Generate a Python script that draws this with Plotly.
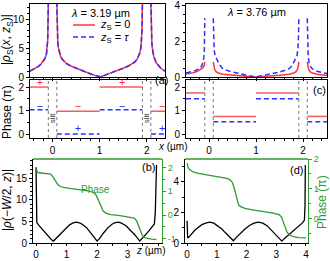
import plotly.graph_objects as go

# ---------------- data ----------------
# panel (a) top : |rho_S(x, z_S)| at lambda = 3.19 um (both z_S nearly identical)
a_left_x = [-0.48, -0.4, -0.3, -0.25, -0.2, -0.16, -0.13, -0.115, -0.105, -0.1, -0.095, -0.09]
a_left_y = [1.0, 1.35, 1.85, 2.2, 2.7, 3.2, 4.0, 5.0, 6.2, 7.8, 10.0, 13.0]
a_mid_x = [0.09, 0.095, 0.10, 0.11, 0.12, 0.14, 0.17, 0.2, 0.25, 0.3, 0.4, 0.5, 0.6, 0.7, 0.8, 0.9, 1.0,
           1.1, 1.2, 1.3, 1.4, 1.5, 1.6, 1.7, 1.75, 1.8, 1.83, 1.86, 1.88, 1.89, 1.90, 1.905, 1.91]
a_mid_y = [13.0, 10.0, 8.0, 6.2, 5.2, 4.3, 3.6, 3.1, 2.6, 2.3, 1.85, 1.5, 1.15, 0.85, 0.55, 0.28, 0.05,
           0.28, 0.55, 0.85, 1.15, 1.5, 1.85, 2.3, 2.6, 3.1, 3.6, 4.3, 5.2, 6.2, 8.0, 10.0, 13.0]
a_right_x = [2.09, 2.095, 2.1, 2.11, 2.12, 2.15, 2.2, 2.25, 2.3, 2.39]
a_right_y = [13.0, 10.0, 7.8, 6.0, 5.0, 3.6, 2.5, 1.9, 1.5, 1.0]

# panel (c) top : lambda = 3.76 um
c_red_left_x = [-0.49, -0.4, -0.3, -0.23, -0.17, -0.13, -0.1, -0.09]
c_red_left_y = [0.17, 0.2, 0.26, 0.34, 0.43, 0.52, 0.65, 0.85]
c_red_mid_x = [0.09, 0.1, 0.12, 0.15, 0.2, 0.3, 0.5, 0.7, 0.85, 1.0, 1.15, 1.3, 1.5, 1.7, 1.8, 1.85, 1.88, 1.9, 1.91]
c_red_mid_y = [0.85, 0.6, 0.42, 0.3, 0.22, 0.16, 0.1, 0.05, 0.025, 0.0, 0.025, 0.05, 0.1, 0.16, 0.22, 0.3, 0.42, 0.6, 0.85]
c_red_right_x = [2.09, 2.1, 2.12, 2.15, 2.2, 2.3, 2.4, 2.51]
c_red_right_y = [0.85, 0.6, 0.42, 0.3, 0.22, 0.15, 0.11, 0.08]

c_blue_left_x = [-0.49, -0.4, -0.3, -0.22, -0.16, -0.13, -0.11, -0.1, -0.095, -0.09]
c_blue_left_y = [0.22, 0.27, 0.35, 0.45, 0.6, 0.8, 1.1, 1.5, 2.2, 3.3]
c_blue_mid_x = [0.09, 0.095, 0.1, 0.11, 0.13, 0.17, 0.22, 0.28, 0.35, 0.5, 0.65, 0.8, 0.9, 1.0,
                1.1, 1.2, 1.35, 1.5, 1.65, 1.72, 1.78, 1.83, 1.87, 1.89, 1.9, 1.905, 1.91]
c_blue_mid_y = [3.3, 2.4, 1.9, 1.5, 1.2, 0.95, 0.7, 0.5, 0.4, 0.28, 0.18, 0.1, 0.05, 0.0,
                0.05, 0.1, 0.18, 0.28, 0.4, 0.5, 0.7, 0.95, 1.2, 1.5, 1.9, 2.4, 3.3]
c_blue_right_x = [2.09, 2.095, 2.1, 2.11, 2.13, 2.16, 2.2, 2.3, 2.4, 2.51]
c_blue_right_y = [3.3, 2.2, 1.6, 1.15, 0.8, 0.58, 0.45, 0.32, 0.25, 0.2]

# phase panels: piecewise constant segments
seg_start = [-0.49, 0.09, 1.0, 2.09]
seg_end = [-0.09, 1.0, 1.91, 2.51]
a_phase_red = [2.0, 0.97, 2.0, 0.97]
a_phase_blue = [1.03, 0.0, 1.03, 0.0]
c_phase_red = [1.75, 0.75, 1.75, 0.75]
c_phase_blue = [1.5, 0.52, 1.5, 0.52]
slit_edges = [-0.09, 0.09, 1.91, 2.09]
slit_centers = [0.0, 2.0]

# sign markers in panel (a) phase
sign_x = [-0.27, 0.54, 1.48, 2.33]
sign_red_text = ["+", "−", "+", "−"]
sign_red_y = [2.17, 1.15, 2.17, 1.15]
sign_blue_text = ["−", "+", "−", "+"]
sign_blue_y = [1.15, 0.21, 1.15, 0.21]

# panel (b): |rho(-W/2, z)| and phase, lambda = 3.19 um
b_z = [0.0, 0.005, 0.012, 0.025, 0.1, 0.2, 0.3, 0.4, 0.5, 0.57, 0.65, 0.8, 0.95, 1.1, 1.2, 1.3, 1.4, 1.5,
       1.65, 1.8, 1.92, 2.0, 2.08, 2.2, 2.35, 2.5, 2.6, 2.7, 2.8, 2.95, 3.1, 3.25, 3.4, 3.48, 3.6, 3.7,
       3.8, 3.88, 3.91, 3.93, 3.95]
b_rho = [17.5, 10.0, 5.5, 4.7, 4.0, 3.2, 2.3, 1.4, 0.8, 0.45, 1.0, 2.2, 3.3, 4.2, 4.6, 4.8, 4.7, 4.4,
         3.6, 2.4, 1.2, 0.45, 1.0, 2.2, 3.5, 4.4, 4.7, 4.8, 4.6, 4.0, 3.0, 1.8, 0.45, 1.0, 2.0, 2.8,
         3.6, 4.4, 7.0, 12.0, 18.0]
b_pz = [0.0, 0.02, 0.05, 0.1, 0.2, 0.3, 0.4, 0.48, 0.55, 0.6, 0.65, 0.72, 0.8, 0.9, 1.1, 1.3, 1.5, 1.7,
        1.85, 1.95, 2.02, 2.08, 2.14, 2.2, 2.3, 2.45, 2.7, 2.9, 3.1, 3.22, 3.3, 3.36, 3.42, 3.48, 3.55,
        3.65, 3.8, 3.95]
b_phase = [1.95, 1.85, 1.8, 1.78, 1.77, 1.76, 1.75, 1.72, 1.62, 1.5, 1.38, 1.27, 1.2, 1.16, 1.12, 1.09,
           1.06, 1.02, 0.97, 0.88, 0.7, 0.5, 0.3, 0.17, 0.07, 0.02, -0.02, -0.05, -0.08, -0.13, -0.25,
           -0.45, -0.68, -0.85, -0.94, -0.99, -1.02, -1.04]

# panel (d): lambda = 3.76 um
d_z = [0.0, 0.01, 0.02, 0.08, 0.16, 0.25, 0.38, 0.5, 0.65, 0.77, 0.9, 1.05, 1.17, 1.3, 1.45, 1.56, 1.65,
       1.8, 1.95, 2.1, 2.25, 2.4, 2.55, 2.7, 2.85, 3.0, 3.1, 3.19, 3.28, 3.4, 3.58, 3.75, 3.9, 3.95,
       3.97, 3.98]
d_rho = [1.46, 0.6, 0.33, 0.42, 0.6, 0.82, 1.03, 1.2, 1.32, 1.36, 1.3, 1.12, 0.92, 0.65, 0.35, 0.15, 0.35,
         0.65, 0.92, 1.15, 1.3, 1.36, 1.3, 1.12, 0.82, 0.5, 0.3, 0.12, 0.3, 0.5, 0.8, 1.12, 1.35, 1.5,
         2.5, 5.1]
d_pz = [0.0, 0.03, 0.1, 0.2, 0.38, 0.6, 0.94, 1.2, 1.34, 1.45, 1.52, 1.58, 1.63, 1.68, 1.73, 1.8, 1.95,
        2.2, 2.63, 2.9, 3.1, 3.18, 3.24, 3.3, 3.36, 3.45, 3.58, 3.75, 3.92, 4.0]
d_phase = [1.86, 1.72, 1.63, 1.57, 1.52, 1.48, 1.44, 1.39, 1.35, 1.3, 1.22, 1.05, 0.85, 0.62, 0.47, 0.4,
           0.34, 0.29, 0.23, 0.18, 0.13, 0.05, -0.12, -0.3, -0.45, -0.55, -0.61, -0.64, -0.65, -0.65]

x_ticks = [0, 1, 2]
z_ticks = [0, 1, 2, 3, 4]
b_z_text = ["0", "1", "2", "3", ""]

# ---------------- style ----------------
RED = "#ff3333"
RED_PH = "#f25c5c"
BLUE = "#2f2fff"
GREEN = "#2f9a2f"
FONT = "Liberation Sans"
W, H = 330, 261


def px(v):
    return v / W


def py(v):
    return 1 - v / H


def join(*parts):
    xs, ys = [], []
    for i in range(0, len(parts), 2):
        if xs:
            xs.append(None)
            ys.append(None)
        xs += list(parts[i])
        ys += list(parts[i + 1])
    return xs, ys


def steps(starts, ends, vals):
    xs, ys = [], []
    for s, e, v in zip(starts, ends, vals):
        xs += [s, e, None]
        ys += [v, v, None]
    return xs, ys


fig = go.Figure()
solid = dict(color=RED, width=1.5)
dashed = dict(color=BLUE, width=1.5, dash="5px,3px")

ax, ay = join(a_left_x, a_left_y, a_mid_x, a_mid_y, a_right_x, a_right_y)
fig.add_trace(go.Scatter(x=ax, y=ay, mode="lines", line=solid, xaxis="x", yaxis="y"))
fig.add_trace(go.Scatter(x=ax, y=ay, mode="lines", line=dashed, xaxis="x", yaxis="y"))
sx, sy = steps(seg_start, seg_end, a_phase_red)
fig.add_trace(go.Scatter(x=sx, y=sy, mode="lines", line=dict(color=RED_PH, width=1.5), xaxis="x2", yaxis="y2"))
sx, sy = steps(seg_start, seg_end, a_phase_blue)
fig.add_trace(go.Scatter(x=sx, y=sy, mode="lines", line=dashed, xaxis="x2", yaxis="y2"))
cx, cy = join(c_red_left_x, c_red_left_y, c_red_mid_x, c_red_mid_y, c_red_right_x, c_red_right_y)
fig.add_trace(go.Scatter(x=cx, y=cy, mode="lines", line=solid, xaxis="x3", yaxis="y3"))
cx, cy = join(c_blue_left_x, c_blue_left_y, c_blue_mid_x, c_blue_mid_y, c_blue_right_x, c_blue_right_y)
fig.add_trace(go.Scatter(x=cx, y=cy, mode="lines", line=dashed, xaxis="x3", yaxis="y3"))
sx, sy = steps(seg_start, seg_end, c_phase_red)
fig.add_trace(go.Scatter(x=sx, y=sy, mode="lines", line=dict(color=RED_PH, width=1.5), xaxis="x4", yaxis="y4"))
sx, sy = steps(seg_start, seg_end, c_phase_blue)
fig.add_trace(go.Scatter(x=sx, y=sy, mode="lines", line=dashed, xaxis="x4", yaxis="y4"))
fig.add_trace(go.Scatter(x=sign_x, y=sign_red_y, mode="text", text=sign_red_text,
                         textfont=dict(color=RED, size=11, family=FONT), xaxis="x2", yaxis="y2"))
fig.add_trace(go.Scatter(x=sign_x, y=sign_blue_y, mode="text", text=sign_blue_text,
                         textfont=dict(color=BLUE, size=11, family=FONT), xaxis="x2", yaxis="y2"))
fig.add_trace(go.Scatter(x=b_z, y=b_rho, mode="lines", line=dict(color="black", width=1.3), xaxis="x5", yaxis="y5"))
fig.add_trace(go.Scatter(x=b_pz, y=b_phase, mode="lines", line=dict(color=GREEN, width=1.3), xaxis="x5", yaxis="y6"))
fig.add_trace(go.Scatter(x=d_z, y=d_rho, mode="lines", line=dict(color="black", width=1.3), xaxis="x6", yaxis="y7"))
fig.add_trace(go.Scatter(x=d_pz, y=d_phase, mode="lines", line=dict(color=GREEN, width=1.3), xaxis="x6", yaxis="y8"))


def axis(**kw):
    base = dict(showline=True, linecolor="black", linewidth=1, ticks="outside", ticklen=3, tickwidth=1,
                tickcolor="black", showgrid=False, zeroline=False, ticklabeloverflow="allow",
                tickfont=dict(size=10, color="black", family=FONT))
    base.update(kw)
    return base


def minor(d, color="black"):
    return dict(dtick=d, tick0=0, ticks="outside", ticklen=2, tickcolor=color, showgrid=False)


dom_left = [px(30), px(165)]
dom_right = [px(186), px(327)]
dom_top = [py(77), py(4)]
dom_ph = [py(138), py(80)]
dom_bot = [py(243), py(159)]
gfont = dict(size=9, color=GREEN, family=FONT)

layout = dict(
    width=W, height=H, margin=dict(l=0, r=0, t=0, b=0, autoexpand=False), showlegend=False,
    paper_bgcolor="white", plot_bgcolor="rgba(0,0,0,0)", font=dict(family=FONT, size=10, color="black"),
    xaxis=axis(domain=dom_left, range=[-0.48, 2.39], anchor="y", tickvals=x_ticks, showticklabels=False,
               minor=minor(0.2), mirror=True),
    yaxis=axis(domain=dom_top, range=[0, 12.6], anchor="x", tickvals=[0, 5, 10], minor=minor(1), mirror=True),
    xaxis2=axis(domain=dom_left, range=[-0.48, 2.39], anchor="y2", tickvals=x_ticks, minor=minor(0.2), mirror=True),
    yaxis2=axis(domain=dom_ph, range=[-0.17, 2.3], anchor="x2", tickvals=[0, 1, 2], minor=minor(0.5), mirror=True),
    xaxis3=axis(domain=dom_right, range=[-0.49, 2.51], anchor="y3", tickvals=x_ticks, showticklabels=False,
                minor=minor(0.2), mirror=True),
    yaxis3=axis(domain=dom_top, range=[0, 4.1], anchor="x3", tickvals=[0, 2, 4], minor=minor(0.5), mirror=True),
    xaxis4=axis(domain=dom_right, range=[-0.49, 2.51], anchor="y4", tickvals=x_ticks, minor=minor(0.2), mirror=True),
    yaxis4=axis(domain=dom_ph, range=[-0.17, 2.3], anchor="x4", tickvals=[0, 1, 2], minor=minor(0.5), mirror=True),
    xaxis5=axis(domain=[px(33), px(162)], range=[-0.1, 4.13], anchor="y5", tickvals=z_ticks, ticktext=b_z_text,
                minor=minor(0.5), ticklen=2),
    yaxis5=axis(domain=dom_bot, range=[0, 19.4], anchor="x5", tickvals=[0, 5, 10, 15], minor=minor(1)),
    yaxis6=axis(overlaying="y5", side="right", anchor="x5", range=[-1.18, 2.36], tickvals=[-1, 0, 1, 2],
                ticktext=["-1", "0", "1", "2"], linecolor=GREEN, tickcolor=GREEN, tickfont=gfont,
                minor=minor(0.5, GREEN)),
    xaxis6=axis(domain=[px(185), px(308)], range=[-0.07, 4.07], anchor="y7", tickvals=z_ticks, minor=minor(0.5),
                ticklen=2),
    yaxis7=axis(domain=dom_bot, range=[0, 5.5], anchor="x6", tickvals=[0, 2, 4], minor=minor(1)),
    yaxis8=axis(overlaying="y7", side="right", anchor="x6", range=[-0.82, 2.0], tickvals=[0, 1, 2],
                linecolor=GREEN, tickcolor=GREEN, tickfont=gfont, minor=minor(0.5, GREEN)),
)

shapes = []
for xr in ("x2", "x4"):
    for e in slit_edges:
        shapes.append(dict(type="line", xref=xr, yref=xr.replace("x", "y") + " domain", x0=e, x1=e, y0=0, y1=1,
                           line=dict(color="#777777", width=1, dash="dot")))
for xr in ("x5", "x6"):
    shapes.append(dict(type="line", xref=xr + " domain", yref="paper", x0=0, x1=1, y0=dom_bot[1], y1=dom_bot[1],
                       line=dict(color=GREEN, width=1.3)))
# legend samples (panel a)
shapes.append(dict(type="line", xref="paper", yref="paper", x0=px(73), x1=px(95), y0=py(25), y1=py(25),
                   line=dict(color=RED, width=1.5)))
shapes.append(dict(type="line", xref="paper", yref="paper", x0=px(73), x1=px(95), y0=py(37), y1=py(37),
                   line=dict(color=BLUE, width=1.5, dash="5px,3px")))
layout["shapes"] = shapes


def note(text, x, y, size=11, color="black", angle=0, xanchor="center", **kw):
    d = dict(text=text, x=px(x), y=py(y), xref="paper", yref="paper", showarrow=False,
             font=dict(size=size, color=color, family=FONT), textangle=angle, xanchor=xanchor, yanchor="middle")
    d.update(kw)
    return d


ann = [
    note("<i>λ</i> = 3.19 µm", 100, 13, 11),
    note("<i>λ</i> = 3.76 µm", 256, 12, 11),
    note("<i>z</i><sub>S</sub> = 0", 98, 25, 11, xanchor="left"),
    note("<i>z</i><sub>S</sub> = <i>τ</i>", 98, 38, 11, xanchor="left"),
    note("(a)", 161, 80, 11),
    note("(c)", 319, 90, 11),
    note("(b)", 148, 167, 11),
    note("(d)", 296, 170, 11),
    note("Phase", 95, 189, 10, GREEN),
    note("<i>x</i> (µm)", 173, 146, 10),
    note("<i>z</i> (µm)", 151, 250, 10),
    note("|<i>ρ̃</i><sub>S</sub>(<i>x</i>, <i>z</i><sub>S</sub>)|", 7, 40, 12, angle=-90),
    note("Phase (π)", 7, 112, 12, angle=-90),
    note("|<i>ρ</i>(−<i>W</i>/2, <i>z</i>)|", 7, 200, 12, angle=-90),
    note("Phase (π)", 322, 202, 12, GREEN, angle=-90),
]
for c in slit_centers:
    ann.append(dict(text="slit", x=c, y=0.35, xref="x2", yref="y2 domain", showarrow=False, textangle=-90,
                    font=dict(size=8, color="#333333", family=FONT)))
layout["annotations"] = ann

fig.update_layout(**layout)
fig.write_html("out.html", config={"displayModeBar": False},
               post_script="document.body.style.margin='0';document.body.style.overflow='hidden';")
